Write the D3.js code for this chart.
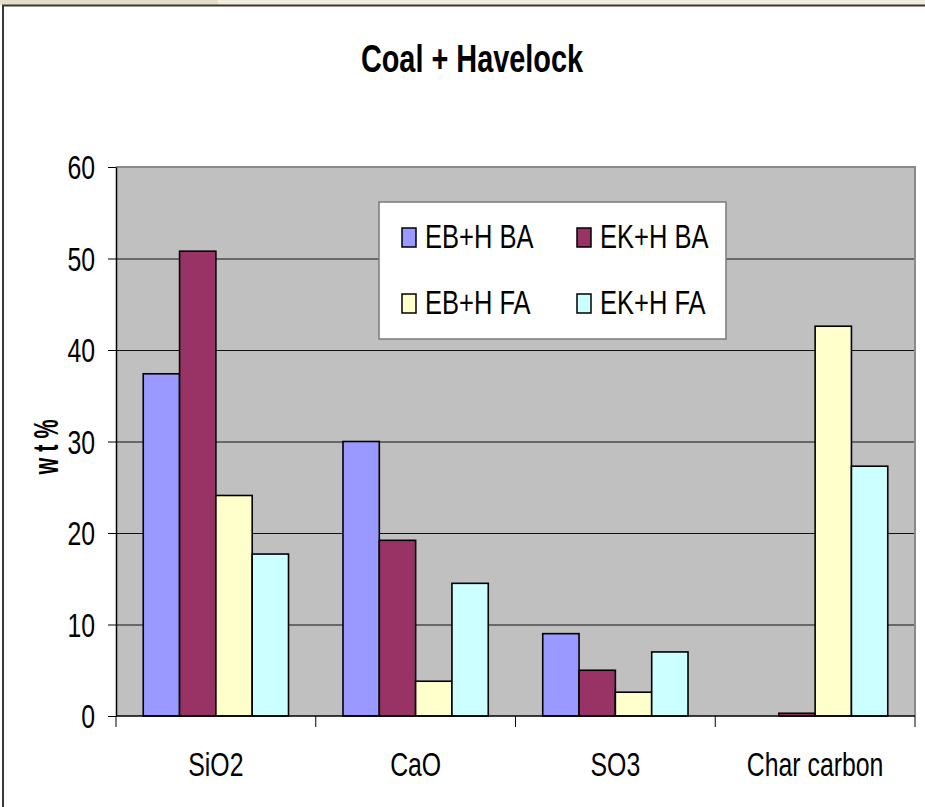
<!DOCTYPE html>
<html>
<head>
<meta charset="utf-8">
<title>Coal + Havelock</title>
<script src="https://cdn.jsdelivr.net/npm/d3@7"></script>
<style>
  html, body { margin: 0; padding: 0; background: #fff; }
  svg { display: block; }
</style>
</head>
<body>
<svg id="chart"></svg>
<script>
// data (wt %)
const categories = ["SiO2", "CaO", "SO3", "Char carbon"];
const seriesNames = ["EB+H BA", "EK+H BA", "EB+H FA", "EK+H FA"];
const ebhBA = [37.4, 30.0, 9.0, 0];
const ekhBA = [50.8, 19.2, 5.0, 0.3];
const ebhFA = [24.1, 3.8, 2.6, 42.6];
const ekhFA = [17.7, 14.5, 7.0, 27.3];
const yTicks = [0, 10, 20, 30, 40, 50, 60];
const seriesColors = ["#9999FF", "#993366", "#FFFFCC", "#CCFFFF"];

(function() {
  const INK = "#000";
  const FONT = "'Liberation Sans', Arial, sans-serif";
  const SX = 0.73; // picture is squeezed sideways

  const width = 925;
  const height = 807;
  const plot = { left: 116, right: 915, top: 167, bottom: 716 };

  const svg = d3.select("#chart")
    .attr("width", width)
    .attr("height", height);

  // page frame
  svg.append("rect").attr("x", 0).attr("y", 0).attr("width", width).attr("height", 5).attr("fill", "#F1ECDC");
  svg.append("rect").attr("x", 0).attr("y", 0).attr("width", 218).attr("height", 5).attr("fill", "#E6DECB");
  svg.append("line")
    .attr("x1", 2).attr("x2", width)
    .attr("y1", 5.5).attr("y2", 5.5)
    .attr("stroke", "#3a3632").attr("stroke-width", 2);
  svg.append("line")
    .attr("x1", 3).attr("x2", 3)
    .attr("y1", 5).attr("y2", height)
    .attr("stroke", "#3a3632").attr("stroke-width", 2);

  const rows = seriesNames.map((name, i) => ({
    name,
    color: seriesColors[i],
    values: [ebhBA, ekhBA, ebhFA, ekhFA][i]
  }));

  const x0 = d3.scaleBand()
    .domain(categories)
    .range([plot.left, plot.right])
    .padding(0);

  const x1 = d3.scaleBand()
    .domain(seriesNames)
    .range([0, x0.bandwidth()])
    .paddingInner(0)
    .paddingOuter(0.75);

  const y = d3.scaleLinear()
    .domain([0, 60])
    .range([plot.bottom, plot.top]);

  // plot background
  svg.append("rect")
    .attr("x", plot.left).attr("y", plot.top)
    .attr("width", plot.right - plot.left)
    .attr("height", plot.bottom - plot.top)
    .attr("fill", "#C0C0C0");

  // grid lines
  svg.append("g")
    .selectAll("line")
    .data(yTicks.filter(d => d > 0 && d < 60))
    .join("line")
    .attr("x1", plot.left).attr("x2", plot.right)
    .attr("y1", d => y(d) + 0.5).attr("y2", d => y(d) + 0.5)
    .attr("stroke", "#111")
    .attr("stroke-width", 1);

  // plot border top / right
  svg.append("path")
    .attr("d", `M${plot.left},${plot.top} H${plot.right} V${plot.bottom}`)
    .attr("fill", "none")
    .attr("stroke", "#8a8a8a")
    .attr("stroke-width", 2);

  // bars
  const groups = svg.append("g")
    .selectAll("g")
    .data(rows)
    .join("g")
    .attr("fill", d => d.color);

  groups.selectAll("rect")
    .data(d => d.values.map((v, j) => ({ cat: categories[j], name: d.name, v })))
    .join("rect")
    .filter(d => d.v > 0)
    .attr("x", d => x0(d.cat) + x1(d.name))
    .attr("y", d => y(d.v))
    .attr("width", x1.bandwidth())
    .attr("height", d => y(0) - y(d.v))
    .attr("stroke", INK)
    .attr("stroke-width", 1.6);

  // y axis
  const yAxis = svg.append("g")
    .attr("transform", `translate(${plot.left},0)`)
    .call(d3.axisLeft(y).tickValues(yTicks).tickSize(8).tickSizeOuter(0));
  yAxis.select(".domain").attr("stroke", INK).attr("stroke-width", 1.5);
  yAxis.selectAll(".tick line").attr("stroke", INK);
  yAxis.selectAll(".tick text")
    .attr("x", null).attr("dy", null)
    .attr("font-family", FONT)
    .attr("font-size", 34)
    .attr("fill", INK)
    .attr("text-anchor", "end")
    .attr("dominant-baseline", "central")
    .attr("transform", `translate(-21,0) scale(${SX},1)`);

  // x axis, ticks on the category boundaries
  const xAxis = svg.append("g")
    .attr("transform", `translate(0,${plot.bottom})`);
  xAxis.append("line")
    .attr("x1", plot.left).attr("x2", plot.right)
    .attr("stroke", INK).attr("stroke-width", 1.5);
  xAxis.selectAll("line.xt")
    .data(categories.map(c => x0(c)).concat([plot.right]))
    .join("line")
    .attr("class", "xt")
    .attr("x1", d => d).attr("x2", d => d)
    .attr("y1", 0).attr("y2", 11)
    .attr("stroke", INK);
  xAxis.selectAll("text")
    .data(categories)
    .join("text")
    .attr("transform", d => `translate(${x0(d) + x0.bandwidth() / 2},60) scale(${SX},1)`)
    .attr("text-anchor", "middle")
    .attr("font-family", FONT)
    .attr("font-size", 34)
    .attr("fill", INK)
    .text(d => d);

  // title
  svg.append("text")
    .attr("transform", `translate(472,72) scale(0.76,1)`)
    .attr("text-anchor", "middle")
    .attr("font-family", FONT)
    .attr("font-weight", 700)
    .attr("font-size", 38)
    .attr("fill", INK)
    .text("Coal + Havelock");

  // y axis title
  svg.append("text")
    .attr("transform", `translate(58,447) rotate(-90) scale(0.72,1.15)`)
    .attr("text-anchor", "middle")
    .attr("font-family", FONT)
    .attr("font-weight", 700)
    .attr("font-size", 30)
    .attr("fill", INK)
    .text("w t %");

  // legend
  const legend = svg.append("g").attr("transform", "translate(379,202)");
  legend.append("rect")
    .attr("width", 347).attr("height", 137)
    .attr("fill", "#fff")
    .attr("stroke", "#7a7a7a")
    .attr("stroke-width", 1.5);

  const item = legend.selectAll("g.item")
    .data(rows)
    .join("g")
    .attr("class", "item")
    .attr("transform", (d, i) => `translate(${i % 2 ? 198 : 23},${i < 2 ? 26 : 92})`);
  item.append("rect")
    .attr("width", 14).attr("height", 19)
    .attr("fill", d => d.color)
    .attr("stroke", INK)
    .attr("stroke-width", 1.5);
  item.append("text")
    .attr("transform", `translate(23,20) scale(0.75,1)`)
    .attr("font-family", FONT)
    .attr("font-size", 34)
    .attr("fill", INK)
    .text(d => d.name);
})();
</script>
</body>
</html>
